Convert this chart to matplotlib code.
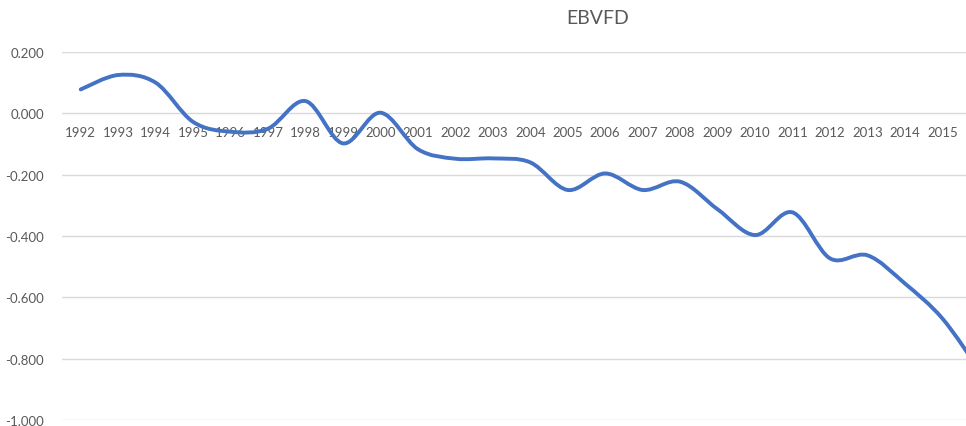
import numpy as np
import matplotlib
matplotlib.use("Agg")
import matplotlib.pyplot as plt
from matplotlib.path import Path
from matplotlib.patches import PathPatch

years = [str(y) for y in range(1992, 2017)]
values = [0.078, 0.125, 0.100, -0.028, -0.060, -0.050, 0.040, -0.098, 0.002,
          -0.117, -0.148, -0.147, -0.160, -0.250, -0.196, -0.250, -0.223,
          -0.313, -0.397, -0.323, -0.473, -0.463, -0.555, -0.669, -0.840]
y_ticks = [0.2, 0.0, -0.2, -0.4, -0.6, -0.8, -1.0]

txt = "#595959"
plt.rcParams['font.family'] = ['Lato', 'DejaVu Sans']

fig = plt.figure(figsize=(9.66, 4.27), dpi=100)
ax = fig.add_axes([62 / 966, 6 / 427, 904 / 966, 368 / 427])

# smoothed line like Excel (Catmull-Rom style bezier through the points)
x = np.arange(len(values), dtype=float)
y = np.array(values)
pts = np.column_stack([x, y])
ext = np.vstack([pts[0], pts, pts[-1]])
verts = [tuple(pts[0])]
codes = [Path.MOVETO]
for i in range(len(pts) - 1):
    p0, p1, p2, p3 = ext[i], ext[i + 1], ext[i + 2], ext[i + 3]
    c1 = p1 + (p2 - p0) / 6
    c2 = p2 - (p3 - p1) / 6
    verts += [tuple(c1), tuple(c2), tuple(p2)]
    codes += [Path.CURVE4] * 3
patch = PathPatch(Path(verts, codes), fill=False, edgecolor="#4472C4",
                  lw=2.8, capstyle='round', joinstyle='round', zorder=3)
ax.add_patch(patch)

ax.set_xticks(x)
ax.set_xticklabels(years)
ax.set_yticks(y_ticks)
ax.set_yticklabels(["%.3f" % v for v in y_ticks])
# chart is cut at the right edge, part way past 2015
ax.set_xlim(-0.5, 23.63)
ax.set_ylim(-1.0, 0.2)
ax.grid(axis='y', color="#D9D9D9", lw=1)
ax.set_axisbelow(True)
for s in ax.spines.values():
    s.set_visible(False)
ax.spines['bottom'].set_position(('data', 0))
ax.tick_params(axis='both', length=0, labelsize=9.5, colors=txt)
ax.tick_params(axis='x', pad=9)
ax.tick_params(axis='y', pad=13)

fig.text(598 / 966, 1 - 18 / 427, "EBVFD", ha='center', va='center',
         fontsize=14, color=txt)

fig.savefig("out.png", dpi=100)
